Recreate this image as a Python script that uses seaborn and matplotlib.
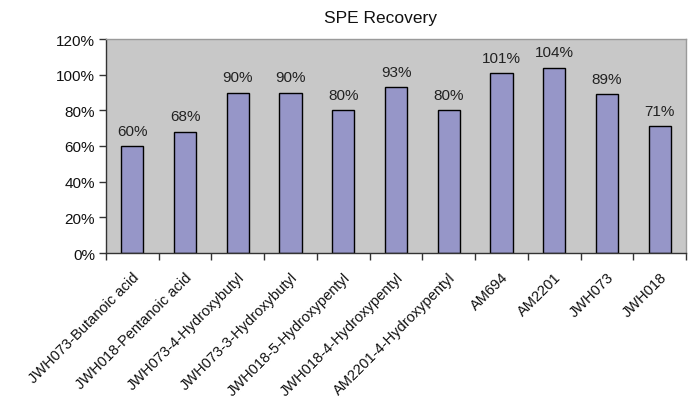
import matplotlib
matplotlib.use("Agg")
import matplotlib.pyplot as plt
import matplotlib.transforms as mtransforms
import seaborn as sns
import pandas as pd
from matplotlib.ticker import PercentFormatter, FixedLocator

compounds = [
    "JWH073-Butanoic acid",
    "JWH018-Pentanoic acid",
    "JWH073-4-Hydroxybutyl",
    "JWH073-3-Hydroxybutyl",
    "JWH018-5-Hydroxypentyl",
    "JWH018-4-Hydroxypentyl",
    "AM2201-4-Hydroxypentyl",
    "AM694",
    "AM2201",
    "JWH073",
    "JWH018",
]
recovery = [60, 68, 90, 90, 80, 93, 80, 101, 104, 89, 71]
y_ticks = [0, 20, 40, 60, 80, 100, 120]

sns.set_theme(style="white")
plt.rcParams["font.family"] = ["Liberation Sans", "DejaVu Sans"]

df = pd.DataFrame({"compound": compounds, "recovery": recovery})

fig = plt.figure(figsize=(6.93, 4.02), dpi=100)
ax = fig.add_axes([106 / 693, 1 - 254 / 402, 580 / 693, 214 / 402])
ax.set_facecolor("#C8C8C8")

sns.barplot(data=df, x="compound", y="recovery", color="#9696C8",
            saturation=1, width=0.42, edgecolor="black", linewidth=1.0, ax=ax)

for i, v in enumerate(recovery):
    ax.annotate(f"{v}%", (i, v), xytext=(0, 6), textcoords="offset points",
                ha="center", va="bottom", fontsize=11, color="#222222")

ax.set_xlim(-0.5, len(compounds) - 0.5)
ax.set_ylim(0, 120)
ax.set_yticks(y_ticks)
ax.yaxis.set_major_formatter(PercentFormatter(decimals=0))
ax.set_xlabel("")
ax.set_ylabel("")
fig.text(380 / 693, 1 - 18 / 402, "SPE Recovery", ha="center", va="center",
         fontsize=12.5, color="#111111")

# category labels at centres, tick marks at category boundaries
ax.set_xticks(range(len(compounds)))
ax.set_xticklabels(compounds, rotation=45, ha="right", rotation_mode="anchor",
                   fontsize=10.5, color="#111111")
shift = mtransforms.ScaledTranslation(-5 / 100, 0, fig.dpi_scale_trans)
for lab in ax.get_xticklabels():
    lab.set_transform(lab.get_transform() + shift)
ax.tick_params(axis="x", which="major", length=0, pad=12)
ax.xaxis.set_minor_locator(FixedLocator([i - 0.5 for i in range(len(compounds) + 1)]))
ax.tick_params(axis="x", which="minor", bottom=True, length=5, width=1, color="#333333",
               direction="out")
ax.tick_params(axis="y", left=True, length=5, width=1, color="#333333", direction="out",
               labelsize=11, labelcolor="#111111", pad=3)

for side in ["left", "bottom"]:
    ax.spines[side].set_color("#333333")
    ax.spines[side].set_linewidth(1)
for side in ["top", "right"]:
    ax.spines[side].set_color("#9A9A9A")
    ax.spines[side].set_linewidth(1)
    ax.spines[side].set_visible(True)

fig.savefig("out.png", dpi=100)
